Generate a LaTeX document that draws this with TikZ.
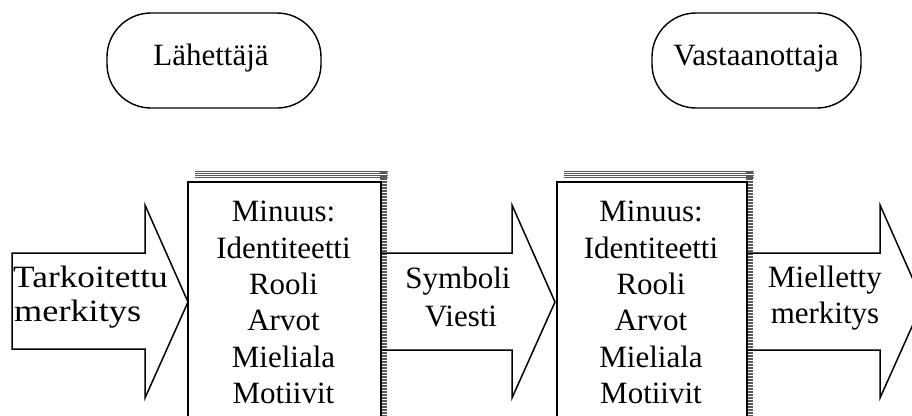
\documentclass[tikz,border=0pt]{standalone}
\usepackage{fontspec}
\setmainfont{Liberation Serif}
\begin{document}
\begin{tikzpicture}[x=1pt,y=-1pt,
  oval/.style={draw=black, line width=1.4pt, rounded corners=44pt, minimum width=214pt, minimum height=95pt, inner sep=0pt},
  selfbox/.style={draw=black, line width=2.4pt, minimum width=193pt, minimum height=260pt, anchor=north west, inner sep=0pt},
  blockarrow/.style={draw=black, line width=1.5pt, line join=miter},
  stripe/.style={draw=black!65, line width=0.7pt},
  txt/.style={anchor=base, inner sep=0pt, font=\fontsize{31}{36}\selectfont}]
\useasboundingbox (0,0) rectangle (912,415);
\clip (0,0) rectangle (912,415);

% ovals
\node[oval] (sender) at (214,60.5) {};
\node[txt] (sendertxt) at (211,65) {Lähettäjä};
\node[oval, minimum width=209pt] (receiver) at (756.5,60.5) {};
\node[txt] (receivertxt) at (756,65) {Vastaanottaja};

% shadows of the boxes
\foreach \sx/\bx in {195/380, 564/746} {
  \foreach \yy in {171,173,175,177}
    \draw[stripe] (\sx,\yy) -- (\bx+8,\yy);
  \foreach \yy in {172,173.5,...,416}
    \draw[stripe, line width=0.6pt] (\bx,\yy) -- (\bx+7,\yy);
}

% boxes
\node[selfbox] (self1) at (187,181) {};
\node[selfbox, minimum width=190pt] (self2) at (556,181) {};

% block arrows
\draw[blockarrow] (12,253) -- (145,253) -- (145,205) -- (188,302) -- (145,398) -- (145,349) -- (12,349) -- cycle;
\draw[blockarrow] (381,253) -- (512,253) -- (512,205) -- (555,302) -- (512,398) -- (512,350) -- (381,350);
\draw[blockarrow] (748,253) -- (880,253) -- (880,205) -- (923,302) -- (880,398) -- (880,350) -- (748,350);

% box texts
\foreach \cx/\nm in {283.5/a, 651/b} {
  \node[txt] (\nm1) at (\cx,221.7) {Minuus:};
  \node[txt] (\nm2) at (\cx,258.2) {Identiteetti};
  \node[txt] (\nm3) at (\cx,294.5) {Rooli};
  \node[txt] (\nm4) at (\cx,330.8) {Arvot};
  \node[txt] (\nm5) at (\cx,367.1) {Mieliala};
  \node[txt] (\nm6) at (\cx,403.4) {Motiivit};
}

% arrow texts
\node[txt, anchor=base west] (in1) at (13,287) {\scalebox{1.14}[1]{Tarkoitettu}};
\node[txt, anchor=base west] (in2) at (14,321.5) {\scalebox{1.17}[1]{merkitys}};
\node[txt] (mid1) at (458,288) {Symboli};
\node[txt] (mid2) at (461,326) {Viesti};
\node[txt] (out1) at (825,287) {Mielletty};
\node[txt] (out2) at (825,323) {merkitys};
\end{tikzpicture}
\end{document}
